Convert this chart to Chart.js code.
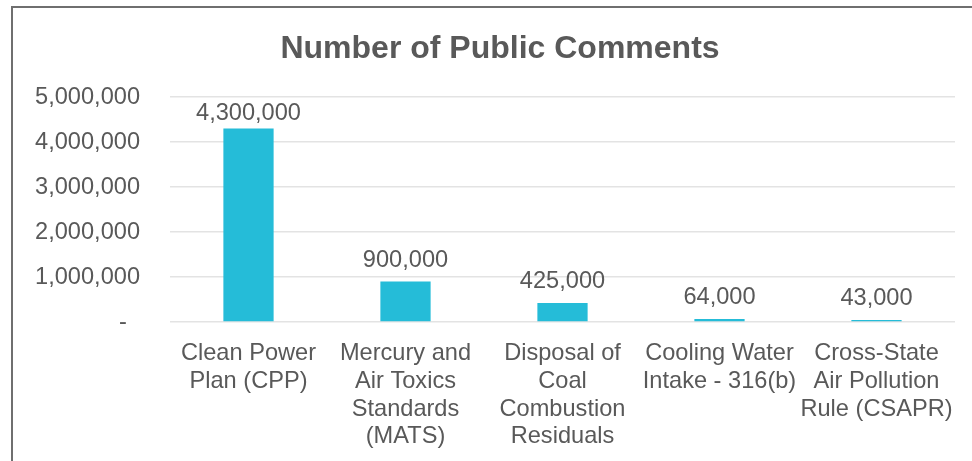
<!DOCTYPE html>
<html>
<head>
<meta charset="utf-8">
<script src="https://cdn.jsdelivr.net/npm/chart.js@4"></script>
<style>
    html, body { margin: 0; padding: 0; background: #fff; overflow: hidden; width: 972px; height: 461px; }
    #frame { position: absolute; left: 11px; top: 6px; width: 974px; height: 460px; border: 2px solid #6f6f6f; }
    #chart { display: block; }
</style>
</head>
<body>
<div id="frame"><canvas id="chart" width="974" height="460"></canvas></div>
<script>
// chart data
var categories = [
    ["Clean Power", "Plan (CPP)"],
    ["Mercury and", "Air Toxics", "Standards", "(MATS)"],
    ["Disposal of", "Coal", "Combustion", "Residuals"],
    ["Cooling Water", "Intake - 316(b)"],
    ["Cross-State", "Air Pollution", "Rule (CSAPR)"]
]
var comments = [4300000, 900000, 425000, 64000, 43000]
var yTicks = [0, 1000000, 2000000, 3000000, 4000000, 5000000]

var textColor = '#595959'
var fontFamily = "'Liberation Sans', Arial, sans-serif"
var fontSize = 23.6

function fmt(v) {
    return v.toLocaleString('en-US')
}

// value labels above the bars, kept inside the plot like excel does
var barLabels = {
    id: 'barLabels',
    afterDatasetsDraw: function(chart) {
        var ctx = chart.ctx
        var meta = chart.getDatasetMeta(0)
        ctx.save()
        ctx.font = fontSize + 'px ' + fontFamily
        ctx.fillStyle = textColor
        ctx.textAlign = 'center'
        ctx.textBaseline = 'alphabetic'
        meta.data.forEach(function(bar, i) {
            var y = Math.max(bar.y - 15, chart.chartArea.top + 23)
            ctx.fillText(fmt(comments[i]), bar.x, y)
        })
        ctx.restore()
    }
}

var ctx = document.getElementById('chart').getContext('2d')
var commentsChart = new Chart(ctx, {
    type: 'bar',
    data: {
        labels: categories,
        datasets: [{
            label: 'Number of Public Comments',
            data: comments,
            backgroundColor: '#25BCD8',
            borderWidth: 0,
            barPercentage: 0.32,
            categoryPercentage: 1
        }]
    },
    options: {
        responsive: false,
        animation: false,
        layout: {
            padding: 0
        },
        scales: {
            x: {
                grid: { display: false, drawTicks: false },
                border: { display: false },
                ticks: {
                    color: textColor,
                    font: { family: fontFamily, size: fontSize, lineHeight: 1.17 },
                    padding: 18,
                    maxRotation: 0,
                    autoSkip: false
                },
                afterFit: function(scale) { scale.height = 146 }
            },
            y: {
                min: 0,
                max: 5000000,
                afterBuildTicks: function(scale) {
                    scale.ticks = yTicks.map(function(v) { return { value: v } })
                },
                grid: { color: '#e3e3e3', lineWidth: 1.5, drawTicks: false },
                border: { display: false },
                ticks: {
                    color: textColor,
                    font: { family: fontFamily, size: fontSize },
                    padding: 30,
                    callback: function(value) {
                        return value === 0 ? '-  ' : fmt(value)
                    }
                },
                afterFit: function(scale) { scale.width = 157 }
            },
            // empty right-hand axis, only used as the right margin so the title stays centred
            yRight: {
                position: 'right',
                grid: { display: false, drawTicks: false },
                border: { display: false },
                ticks: { display: false },
                afterFit: function(scale) { scale.width = 32 }
            }
        },
        plugins: {
            legend: { display: false },
            tooltip: { enabled: false },
            title: {
                display: true,
                text: 'Number of Public Comments',
                color: textColor,
                font: { family: fontFamily, size: 32, weight: 'bold', lineHeight: 1.2 },
                padding: { top: 22, bottom: 28.6 }
            }
        }
    },
    plugins: [barLabels]
})
</script>
</body>
</html>
